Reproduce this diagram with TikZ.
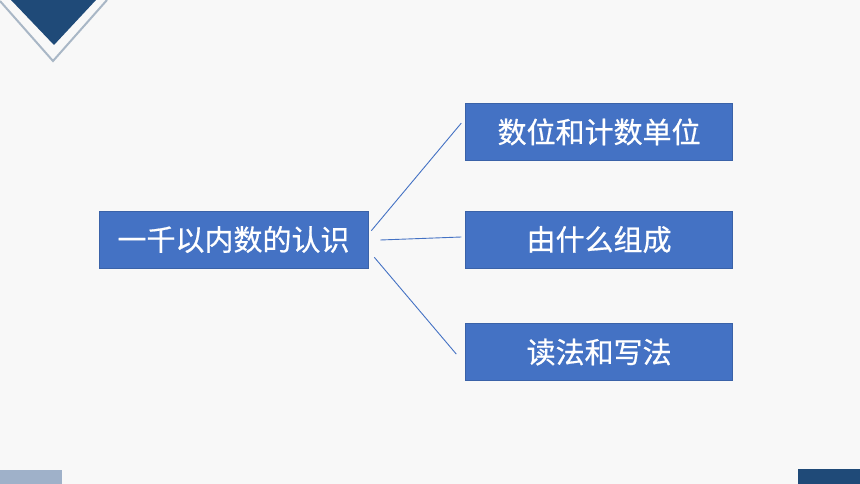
\documentclass[tikz,border=0pt]{standalone}
\usepackage{fontspec}
\newfontfamily\cjk[FakeBold=0.6]{Noto Sans CJK SC}
\usepackage{tikz}
\usetikzlibrary{positioning,calc}

\definecolor{bgpage}{HTML}{F8F8F8}
\definecolor{boxblue}{HTML}{4472C4}
\definecolor{boxedge}{HTML}{3A62A8}
\definecolor{navy}{HTML}{1F4A78}
\definecolor{paleblue}{HTML}{9FB1C9}
\definecolor{vline}{HTML}{A9B7C6}

\tikzset{
	topic/.style={minimum height=57pt,minimum width=267pt,draw=boxedge,line width=0.6pt,fill=boxblue,text=white,font=\cjk\fontsize{29}{29}\selectfont,inner sep=0pt},
	link/.style={draw=boxblue,line width=0.9pt}
}

\begin{document}
\begin{tikzpicture}[x=1pt,y=-1pt]
		% page
		\fill[bgpage] (0,0) rectangle (860,484);
		\useasboundingbox (0,0) rectangle (860,484);
		
		% corner marks
		\fill[navy] (11,0)--(96,0)--(54,45)--cycle;
		\draw[vline,line width=2pt] (0,1)--(53,61)--(107,0);
		\fill[paleblue] (0,470) rectangle (62,484);
		\fill[navy] (798,469) rectangle (860,484);
		
		\node[topic,minimum width=269pt] (main) at (233.5,239.5) {一千以内数的认识};
		
		\node[topic,right=97pt of main] (form) {由什么组成};
		\node[topic,above=50pt of form] (place) {数位和计数单位};
		\node[topic,below=55pt of form] (read) {读法和写法};
		
		\draw[link] ([shift={(3,20)}]main.north east) -- ([shift={(-4,20)}]place.north west);
		\draw[link] ([shift={(12,0.5)}]main.east) -- ([shift={(-4,-2.5)}]form.west);
		\draw[link] ([shift={(6,-11)}]main.south east) -- ([shift={(-9,2)}]read.west);
	\end{tikzpicture}
\end{document}
